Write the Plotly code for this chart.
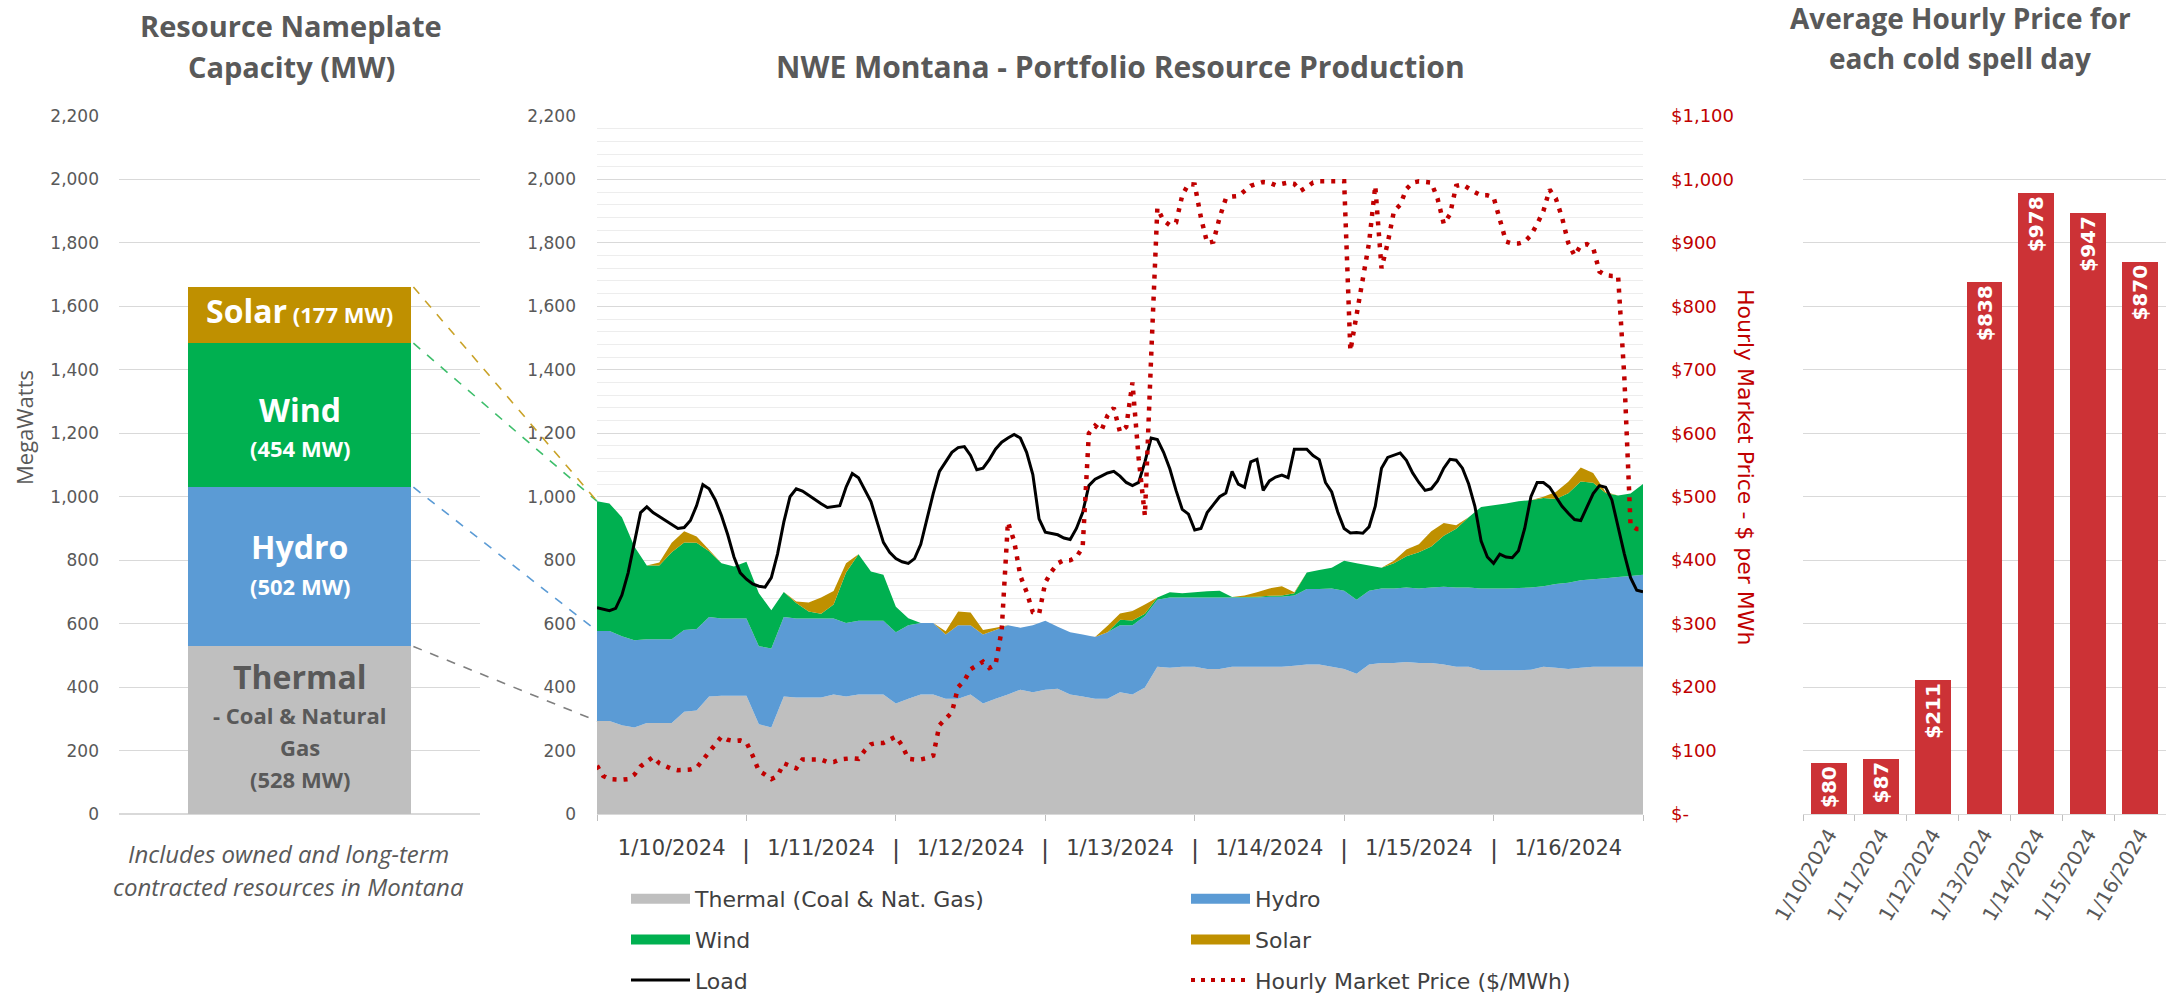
import plotly.graph_objects as go

W, H = 2166, 993

# left panel: nameplate capacity (MW), bottom to top
nameplate_names = ["Thermal", "Hydro", "Wind", "Solar"]
nameplate_mw = [528, 502, 454, 177]
nameplate_notes = {"Thermal": ["- Coal & Natural", "Gas"]}

# middle panel: hourly production, read every 2 hours from 1/10 00:00 (hour 0) to hour 168
area_hours = list(range(0, 169, 2))
thermal = [293, 293, 280, 273, 287, 287, 287, 322, 326, 370, 373, 373,
           373, 283, 273, 370, 367, 367, 367, 377, 370, 377, 377, 377,
           348, 363, 377, 377, 363, 363, 377, 348, 363, 377, 392, 384,
           392, 395, 377, 370, 363, 363, 384, 377, 399, 464, 461, 464,
           464, 457, 457, 464, 464, 464, 464, 464, 467, 471, 471, 464,
           457, 442, 471, 476, 476, 479, 476, 476, 471, 464, 464, 453,
           453, 453, 453, 455, 464, 461, 457, 461, 464, 464, 464, 464,
           464]
hydro = [284, 284, 280, 275, 264, 264, 264, 258, 257, 251, 243, 243,
         243, 246, 249, 251, 249, 249, 249, 239, 232, 232, 232, 232,
         225, 232, 225, 225, 203, 232, 218, 218, 217, 218, 195, 211,
         217, 195, 196, 196, 195, 210, 211, 218, 225, 211, 221, 218,
         218, 225, 225, 218, 218, 218, 221, 221, 222, 238, 238, 247,
         247, 233, 233, 235, 235, 235, 235, 238, 245, 250, 250, 258,
         258, 258, 259, 259, 254, 264, 272, 276, 276, 279, 283, 286,
         290]
wind = [409, 402, 375, 295, 232, 232, 274, 276, 272, 207, 174, 164,
        179, 167, 120, 79, 49, 22, 15, 44, 159, 210, 155, 145,
        80, 22, 0, 0, 0, 0, 0, 0, 0, 0, 0, 0,
        0, 0, 0, 0, 0, 0, 17, 15, 7, 7, 17, 14,
        17, 20, 22, 2, 2, 3, 3, 4, 7, 52, 60, 65,
        94, 115, 79, 65, 79, 98, 114, 129, 161, 185, 221, 257,
        262, 268, 274, 275, 278, 268, 282, 311, 304, 269, 257, 260,
        286]
solar = [0, 0, 0, 0, 0, 10, 30, 35, 20, 5, 0, 0,
         0, 0, 0, 0, 5, 29, 51, 43, 29, 0, 0, 0,
         0, 0, 0, 0, 10, 43, 40, 14, 7, 0, 0, 0,
         0, 0, 0, 0, 0, 20, 20, 30, 29, 0, 0, 0,
         0, 0, 0, 0, 5, 14, 23, 29, 3, 0, 0, 0,
         0, 0, 0, 0, 8, 22, 25, 48, 40, 11, 0, 0,
         0, 0, 0, 0, 4, 22, 36, 44, 31, 3, 0, 0,
         0]

# hourly load (MW) and market price ($/MWh)
line_hours = list(range(0, 169))
load = [650, 645, 641, 648, 690, 760, 860, 950, 968, 950, 938, 925, 912, 900, 903, 925, 972, 1038, 1025, 990, 940, 880, 810, 760,
        740, 725, 718, 715, 745, 820, 920, 1000, 1025, 1018, 1005, 990, 978, 966, 968, 972, 1030, 1073, 1060, 1020, 985, 920, 856, 825,
        805, 795, 790, 805, 850, 930, 1010, 1080, 1110, 1140, 1155, 1158, 1130, 1085, 1090, 1117, 1150, 1172, 1185, 1196, 1185, 1140, 1070, 930,
        888, 885, 880, 870, 865, 900, 950, 1035, 1055, 1065, 1075, 1080, 1065, 1045, 1035, 1045, 1110, 1185, 1180, 1140, 1088, 1020, 960, 945,
        895, 900, 950, 975, 1000, 1012, 1080, 1040, 1030, 1110, 1118, 1020, 1050, 1062, 1068, 1060, 1150, 1150, 1150, 1130, 1117, 1045, 1015, 950,
        900, 886, 887, 885, 905, 970, 1090, 1124, 1130, 1138, 1115, 1075, 1045, 1020, 1025, 1050, 1090, 1118, 1115, 1090, 1040, 970, 860, 810,
        790, 819, 810, 808, 830, 900, 1000, 1045, 1045, 1030, 1000, 970, 948, 928, 925, 965, 1010, 1035, 1030, 990, 900, 820, 745, 705,
        700]
price = [76, 60, 55, 54, 54, 55, 62, 75, 83, 90, 80, 75, 71, 69, 69, 70, 73, 85, 97, 110, 122, 117, 115, 116,
         113, 92, 68, 62, 55, 60, 80, 76, 72, 86, 86, 86, 86, 82, 82, 86, 87, 88, 87, 100, 110, 112, 112, 118,
         122, 108, 87, 86, 86, 88, 92, 140, 150, 160, 200, 210, 228, 235, 240, 230, 235, 290, 460, 430, 375, 350, 318, 315,
         365, 382, 395, 400, 400, 405, 420, 600, 612, 604, 628, 640, 602, 610, 680, 560, 470, 720, 955, 935, 928, 932, 975, 993,
         992, 940, 900, 902, 940, 970, 973, 974, 982, 990, 993, 996, 995, 991, 993, 995, 993, 982, 988, 995, 997, 997, 997, 997,
         997, 730, 790, 845, 900, 990, 860, 900, 950, 960, 985, 995, 997, 996, 995, 970, 930, 945, 990, 992, 985, 980, 975, 975,
         972, 935, 902, 899, 899, 902, 912, 930, 950, 984, 970, 940, 900, 880, 896, 898, 892, 855, 849, 848, 848, 689, 455, 449,
         449]

# right panel: average hourly price per day
days = ["1/10/2024", "1/11/2024", "1/12/2024", "1/13/2024", "1/14/2024", "1/15/2024", "1/16/2024"]
day_avg_price = [80, 87, 211, 838, 978, 947, 870]

COLORS = {"Thermal": "#BFBFBF", "Hydro": "#5B9BD5", "Wind": "#00B050", "Solar": "#BF9000"}
DASH_COLORS = {"Thermal": "#7F7F7F", "Hydro": "#5B9BD5", "Wind": "#3DBE6B", "Solar": "#C9A227"}
GRAY, DARK, RED = "#595959", "#404040", "#C00000"
TITLE_FONT = "Open Sans"
LABEL_FONT = "DejaVu Sans"


def fx(p):
    return p / W


def fy(p):
    return 1 - p / H


# panel domains (paper fractions)
Y_DOM = [fy(814), fy(116)]
LEFT = [fx(119), fx(480)]
MID = [fx(597), fx(1643)]
RIGHT = [fx(1803), 1.0]
LEFT_BAR_W = 0.62

# pixel offsets of the text lines inside each nameplate segment, from the segment middle
SEG_LINE_SHIFT = {"Solar": [5], "Wind": [6, -33], "Hydro": [20, -19], "Thermal": [54, 15, -17, -49]}

fig = go.Figure()

# ---- left: nameplate stack
bottom = 0
for name, mw in zip(nameplate_names, nameplate_mw):
    fig.add_trace(go.Bar(
        x=[0], y=[mw], width=LEFT_BAR_W, marker=dict(color=COLORS[name], line=dict(width=0)),
        xaxis="x", yaxis="y", showlegend=False, hoverinfo="skip"))
    color = GRAY if name == "Thermal" else "white"
    if name == "Solar":
        lines = ["<b><span style='font-size:32px'>%s</span> (%d MW)</b>" % (name, mw)]
    else:
        lines = ["<b><span style='font-size:32px'>%s</span></b>" % name]
        lines += ["<b>%s</b>" % note for note in nameplate_notes.get(name, [])]
        lines.append("<b>(%d MW)</b>" % mw)
    for text, shift in zip(lines, SEG_LINE_SHIFT[name]):
        fig.add_annotation(text=text, x=0, y=bottom + mw / 2, xref="x", yref="y", yshift=shift,
                           showarrow=False, xanchor="center", yanchor="middle",
                           font=dict(family=TITLE_FONT, size=22, color=color))
    bottom += mw

# ---- middle: stacked production + load + price
area_series = [("Thermal (Coal & Nat. Gas)", "Thermal", thermal),
               ("Hydro", "Hydro", hydro),
               ("Wind", "Wind", wind),
               ("Solar", "Solar", solar)]
for label, key, values in area_series:
    fig.add_trace(go.Scatter(
        x=area_hours, y=values, name=label, stackgroup="gen", mode="none",
        fillcolor=COLORS[key], line=dict(width=0), xaxis="x2", yaxis="y2", showlegend=False))
fig.add_trace(go.Scatter(x=line_hours, y=load, name="Load", mode="lines",
                         line=dict(color="black", width=3), xaxis="x2", yaxis="y2", showlegend=False))
fig.add_trace(go.Scatter(x=line_hours, y=price, name="Hourly Market Price ($/MWh)", mode="lines",
                         line=dict(color=RED, width=4.5, dash="4px,7px"), xaxis="x2", yaxis="y3",
                         showlegend=False))

# legend entries (swatches drawn as thick legend lines)
legend_rows = [("Thermal (Coal & Nat. Gas)", "legend", dict(color=COLORS["Thermal"], width=14)),
               ("Hydro", "legend2", dict(color=COLORS["Hydro"], width=14)),
               ("Wind", "legend", dict(color=COLORS["Wind"], width=14)),
               ("Solar", "legend2", dict(color=COLORS["Solar"], width=14)),
               ("Load", "legend", dict(color="black", width=3)),
               ("Hourly Market Price ($/MWh)", "legend2", dict(color=RED, width=4, dash="4px,6px"))]
for label, leg, line in legend_rows:
    fig.add_trace(go.Scatter(x=[None], y=[None], name=label, mode="lines", line=line,
                             xaxis="x2", yaxis="y2", legend=leg, legendgroup=label))

# ---- right: average price bars
fig.add_trace(go.Bar(
    x=days, y=day_avg_price, width=0.69, marker=dict(color="#CC3236", line=dict(width=0)),
    text=["$%d" % v for v in day_avg_price], textposition="inside", insidetextanchor="end",
    textangle=-90, constraintext="none",
    textfont=dict(family=LABEL_FONT, size=20, color="white", weight="bold"),
    xaxis="x3", yaxis="y4", showlegend=False, hoverinfo="skip"))

# dashed connectors: top of each nameplate segment -> same stack level at hour 0
bar_edge = LEFT[0] + (0.5 + LEFT_BAR_W / 2) * (LEFT[1] - LEFT[0])
first_hour = [thermal[0], hydro[0], wind[0], solar[0]]
top_nameplate, top_first = 0, 0
for name, mw, start in zip(nameplate_names, nameplate_mw, first_hour):
    top_nameplate += mw
    top_first += start
    fig.add_shape(type="line", xref="paper", yref="y", x0=bar_edge + fx(2), y0=top_nameplate,
                  x1=MID[0], y1=top_first, line=dict(color=DASH_COLORS[name], width=1.6, dash="dash"))

day_edges = [24 * i for i in range(len(days) + 1)]
day_centers = [24 * i + 12 for i in range(len(days))]
price_ticks = list(range(0, 1101, 100))

tick_font = dict(family=LABEL_FONT, size=17, color=GRAY)
legend_style = dict(y=fy(878), xanchor="left", yanchor="top", orientation="v",
                    traceorder="grouped", tracegroupgap=9, itemwidth=59, bgcolor="rgba(0,0,0,0)",
                    font=dict(family=LABEL_FONT, size=22, color=DARK))
fig.update_layout(
    width=W, height=H, margin=dict(l=0, r=0, t=0, b=0, autoexpand=False),
    paper_bgcolor="white", plot_bgcolor="white", barmode="stack",
    xaxis=dict(domain=LEFT, range=[-0.5, 0.5], showticklabels=False, showgrid=False,
               zeroline=False, anchor="y", automargin=False),
    yaxis=dict(domain=Y_DOM, range=[0, 2200], dtick=200, tickformat=",", gridcolor="#D9D9D9",
               zeroline=True, zerolinecolor="#D9D9D9", tickfont=tick_font, ticklabelstandoff=19,
               anchor="x", automargin=False),
    xaxis2=dict(domain=MID, range=[0, 168], tickmode="array", tickvals=day_centers, ticktext=days,
                ticks="", showline=True, linecolor="#D9D9D9", showgrid=False, zeroline=False,
                tickfont=dict(family=LABEL_FONT, size=21, color=DARK), ticklabelstandoff=15,
                minor=dict(tickmode="array", tickvals=day_edges, ticks="outside", ticklen=6,
                           tickcolor="#BFBFBF", showgrid=False),
                anchor="y2", automargin=False),
    yaxis2=dict(domain=Y_DOM, range=[0, 2200], dtick=200, tickformat=",", gridcolor="#D9D9D9",
                zeroline=False, tickfont=tick_font, ticklabelstandoff=20, anchor="x2",
                minor=dict(dtick=40, showgrid=True, gridcolor="#EDEDED"), automargin=False),
    yaxis3=dict(overlaying="y2", side="right", range=[0, 1100], tickmode="array",
                tickvals=price_ticks,
                ticktext=["$-" if v == 0 else "${:,}".format(v) for v in price_ticks],
                showgrid=False, zeroline=False, anchor="x2", ticklabelstandoff=27, automargin=False,
                tickfont=dict(family=LABEL_FONT, size=18, color=RED)),
    xaxis3=dict(domain=RIGHT, type="category", tickangle=-60, tickson="boundaries", ticks="outside",
                ticklen=6, tickcolor="#BFBFBF", showline=True, linecolor="#D9D9D9", showgrid=False,
                tickfont=dict(family=LABEL_FONT, size=20, color=GRAY), anchor="y4", automargin=False),
    yaxis4=dict(domain=Y_DOM, range=[0, 1100], dtick=100, gridcolor="#D9D9D9",
                showticklabels=False, zeroline=False, anchor="x3", automargin=False),
    legend=dict(x=fx(626), **legend_style),
    legend2=dict(x=fx(1186), **legend_style),
)

texts = [
    ("Resource Nameplate", 291, 25, 29), ("Capacity (MW)", 291, 66, 29),
    ("NWE Montana - Portfolio Resource Production", 1120, 66, 30),
    ("Average Hourly Price for", 1960, 18, 28), ("each cold spell day", 1960, 58, 28),
]
for text, x, y, size in texts:
    fig.add_annotation(text=text, x=fx(x), y=fy(y), xref="paper", yref="paper",
                       showarrow=False, xanchor="center", yanchor="middle",
                       font=dict(family=TITLE_FONT, size=size, color=GRAY, weight="bold"))

fig.add_annotation(text="MegaWatts", x=fx(24), y=fy(428), xref="paper", yref="paper", showarrow=False,
                   xanchor="center", yanchor="middle", textangle=-90,
                   font=dict(family=TITLE_FONT, size=22, color=GRAY))
for text, y in [("Includes owned and long-term", 853), ("contracted resources in Montana", 886)]:
    fig.add_annotation(text="<i>%s</i>" % text, x=fx(288), y=fy(y), xref="paper", yref="paper",
                       showarrow=False, xanchor="center", yanchor="middle",
                       font=dict(family=TITLE_FONT, size=24, color=GRAY))
fig.add_annotation(text="Hourly Market Price - $ per MWh", x=fx(1746), y=fy(467), xref="paper",
                   yref="paper", showarrow=False, xanchor="center", yanchor="middle", textangle=90,
                   font=dict(family=LABEL_FONT, size=22, color=RED))
for edge in day_edges[1:-1]:
    fig.add_annotation(text="|", x=edge, y=fy(850), xref="x2", yref="paper", showarrow=False,
                       xanchor="center", yanchor="middle",
                       font=dict(family=LABEL_FONT, size=24, color=DARK))

# the page is photographed edge to edge: no modebar, no default body margin
fig.write_html("out.html", config={"displayModeBar": False},
               post_script="document.body.style.margin = '0';")
